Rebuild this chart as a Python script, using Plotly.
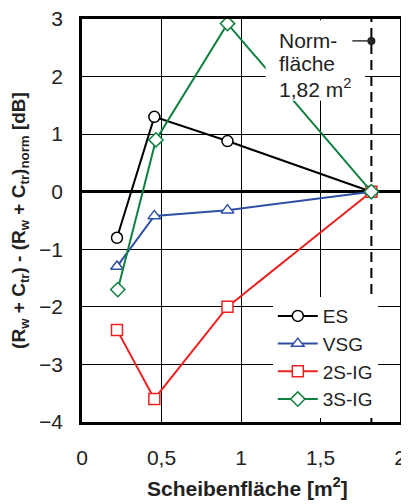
import plotly.graph_objects as go

x_es = [0.22, 0.455, 0.915, 1.82]
y_es = [-0.8, 1.3, 0.88, 0.0]
x_vsg = [0.22, 0.455, 0.915, 1.82]
y_vsg = [-1.3, -0.42, -0.32, 0.0]
x_2s = [0.22, 0.455, 0.915, 1.82]
y_2s = [-2.4, -3.6, -2.0, 0.0]
x_3s = [0.225, 0.465, 0.915, 1.82]
y_3s = [-1.7, 0.9, 2.92, 0.0]
names = ["ES", "VSG", "2S-IG", "3S-IG"]
colors = ["#000000", "#2f4fa5", "#ee2020", "#0f8040"]
symbols = ["circle", "triangle-up", "square", "diamond"]
norm_x = 1.82
norm_dot_y = 2.62
norm_lines = ["Norm-", "fläche", "1,82 m<sup>2</sup>"]
norm_line_y = [2.62, 2.22, 1.80]
x_ticks = [0, 0.5, 1, 1.5, 2]
x_ticklabels = ["0", "0,5", "1", "1,5", "2"]
y_ticks = [-4, -3, -2, -1, 0, 1, 2, 3]

FONT = "Liberation Sans, Arial, sans-serif"

fig = go.Figure()
for xs, ys, n, c, s in zip([x_es, x_vsg, x_2s, x_3s], [y_es, y_vsg, y_2s, y_3s], names, colors, symbols):
    fig.add_trace(go.Scatter(x=xs, y=ys, name=n, mode="lines+markers",
                             line=dict(color=c, width=2),
                             marker=dict(symbol=s, size=11, color="white", line=dict(width=1.5, color=c))))

# dashed vertical line at norm area
fig.add_shape(type="line", x0=norm_x, x1=norm_x, y0=-4, y1=3, xref="x", yref="y",
              line=dict(color="black", width=2, dash="10px,6px"), layer="below")
# white box behind annotation
fig.add_shape(type="rect", x0=1.155, x1=1.78, y0=1.58, y1=2.98, xref="x", yref="y",
              fillcolor="white", line=dict(width=0), layer="above")
for t, yy in zip(norm_lines, norm_line_y):
    fig.add_annotation(x=1.225, y=yy, xref="x", yref="y", xanchor="left", yanchor="middle",
                       text=t, showarrow=False, align="left",
                       font=dict(family=FONT, size=21, color="#222"))
fig.add_shape(type="line", x0=1.70, x1=norm_x, y0=norm_dot_y, y1=norm_dot_y, xref="x", yref="y",
              line=dict(color="#333", width=1.5), layer="above")
fig.add_trace(go.Scatter(x=[norm_x], y=[norm_dot_y], mode="markers", showlegend=False,
                         marker=dict(color="#222", size=8)))

# x-axis title
fig.add_annotation(x=0.522, y=-0.162, xref="paper", yref="paper", xanchor="center", yanchor="middle",
                   text="<b>Scheibenfläche [m<sup>2</sup>]</b>", showarrow=False,
                   font=dict(family=FONT, size=21, color="#222"))

fig.update_layout(
    width=401, height=496,
    margin=dict(l=74, r=9, t=11, b=82),
    paper_bgcolor="white", plot_bgcolor="white",
    font=dict(family=FONT, size=21, color="#222"),
    showlegend=True,
    legend=dict(x=0.60, y=0.31, xanchor="left", yanchor="top", bgcolor="white",
                borderwidth=0, font=dict(size=19, family=FONT), tracegroupgap=0,
                itemwidth=40),
)
fig.update_xaxes(range=[0, 2], tickvals=x_ticks, ticktext=x_ticklabels,
                 showgrid=True, gridcolor="black", gridwidth=1,
                 showline=True, linecolor="black", linewidth=2.5, mirror=True,
                 ticks="", zeroline=False, automargin=False, ticklabeloverflow="allow",
                 tickfont=dict(size=21), ticklabelstandoff=15)
fig.update_yaxes(range=[-4, 3], tickvals=y_ticks,
                 showgrid=True, gridcolor="black", gridwidth=1,
                 showline=True, linecolor="black", linewidth=2.5, mirror=True,
                 ticks="", zeroline=True, zerolinecolor="black", zerolinewidth=2.5,
                 automargin=False, tickfont=dict(size=21), ticklabelstandoff=12,
                 ticklabeloverflow="allow",
                 title=dict(text="<b>(R<sub>w</sub> + C<sub>tr</sub>) - (R<sub>w</sub> + C<sub>tr</sub>)<sub>norm</sub> [dB]</b>",
                            font=dict(size=19, family=FONT)))

fig.write_html("out.html")
